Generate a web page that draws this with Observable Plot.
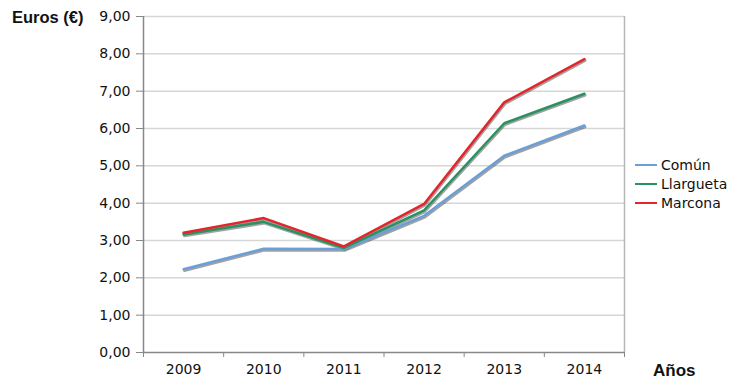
<!DOCTYPE html>
<html>
<head>
<meta charset="utf-8">
<script src="https://cdn.jsdelivr.net/npm/d3@7"></script>
<script src="https://cdn.jsdelivr.net/npm/@observablehq/plot@0.6"></script>
<style>
  body { margin: 0; background: #fff; }
  #wrap { position: relative; width: 750px; height: 388px; }
  .lbl { position: absolute; font-family: "Liberation Sans", Arial, sans-serif; font-weight: bold; font-size: 16.5px; color: #111; white-space: nowrap; }
  #legend { position: absolute; left: 635px; top: 155px; font-family: "DejaVu Sans", Verdana, sans-serif; font-size: 14px; color: #111; }
  .row { display: flex; align-items: center; height: 19px; }
  .sw { width: 22px; height: 2px; margin-right: 4px; }
</style>
</head>
<body>
<div id="wrap">
  <div id="chart"></div>
  <div class="lbl" style="left:12px; top:8px;">Euros (€)</div>
  <div class="lbl" style="left:653px; top:361px; font-size:17px;">Años</div>
  <div id="legend"></div>
</div>
<script>
const years = [2009, 2010, 2011, 2012, 2013, 2014];
const series = ["Común", "Llargueta", "Marcona"];
const colors = ["#6a9fd8", "#2a9160", "#e3262b"];
const comun = [2.23, 2.78, 2.77, 3.66, 5.27, 6.08];
const llargueta = [3.16, 3.50, 2.80, 3.81, 6.14, 6.93];
const marcona = [3.21, 3.60, 2.84, 3.98, 6.70, 7.86];
const yTicks = [0, 1, 2, 3, 4, 5, 6, 7, 8, 9];

const values = [comun, llargueta, marcona];
const data = [];
series.forEach((s, i) => years.forEach((yr, j) => data.push({year: yr, value: values[i][j], series: s})));
const bounds = years.map(y => y - 0.5).concat([years[years.length - 1] + 0.5]);

const chart = Plot.plot({
  width: 750,
  height: 388,
  marginLeft: 143,
  marginRight: 126,
  marginTop: 16,
  marginBottom: 36,
  style: {fontFamily: "'DejaVu Sans', Verdana, sans-serif", background: "#fff"},
  x: {type: "linear", domain: [bounds[0], bounds[bounds.length - 1]]},
  y: {domain: [0, 9]},
  color: {domain: series, range: colors},
  marks: [
    Plot.gridY(yTicks.filter(d => d > 0), {stroke: "#d6d6d6", strokeOpacity: 1, strokeWidth: 1.5}),
    Plot.ruleX([bounds[bounds.length - 1]], {stroke: "#b8b8b8", strokeWidth: 1.5}),
    Plot.axisY(yTicks, {tickFormat: d => d.toFixed(2).replace(".", ","), tickSize: 7, tickPadding: 6, fontSize: 14, fill: "#111", stroke: "#888", label: null}),
    Plot.axisX(years, {tickFormat: d => String(d), tickSize: 0, tickPadding: 12, fontSize: 14, fill: "#111", label: null}),
    Plot.axisX(bounds, {tickFormat: () => "", tickSize: 5, stroke: "#888", label: null}),
    Plot.ruleY([0], {stroke: "#888", strokeWidth: 1.5}),
    Plot.ruleX([bounds[0]], {stroke: "#888", strokeWidth: 1.5}),
    Plot.line(data, {x: "year", y: "value", z: "series", stroke: "#555", strokeOpacity: 0.55, strokeWidth: 2.5, dx: 0.8, dy: 1.5}),
    Plot.line(data, {x: "year", y: "value", z: "series", stroke: "series", strokeWidth: 2.5})
  ]
});
document.getElementById("chart").appendChild(chart);

const legend = document.getElementById("legend");
series.forEach((s, i) => {
  const row = document.createElement("div");
  row.className = "row";
  row.innerHTML = `<div class="sw" style="background:${colors[i]}"></div><span>${s}</span>`;
  legend.appendChild(row);
});
</script>
</body>
</html>
